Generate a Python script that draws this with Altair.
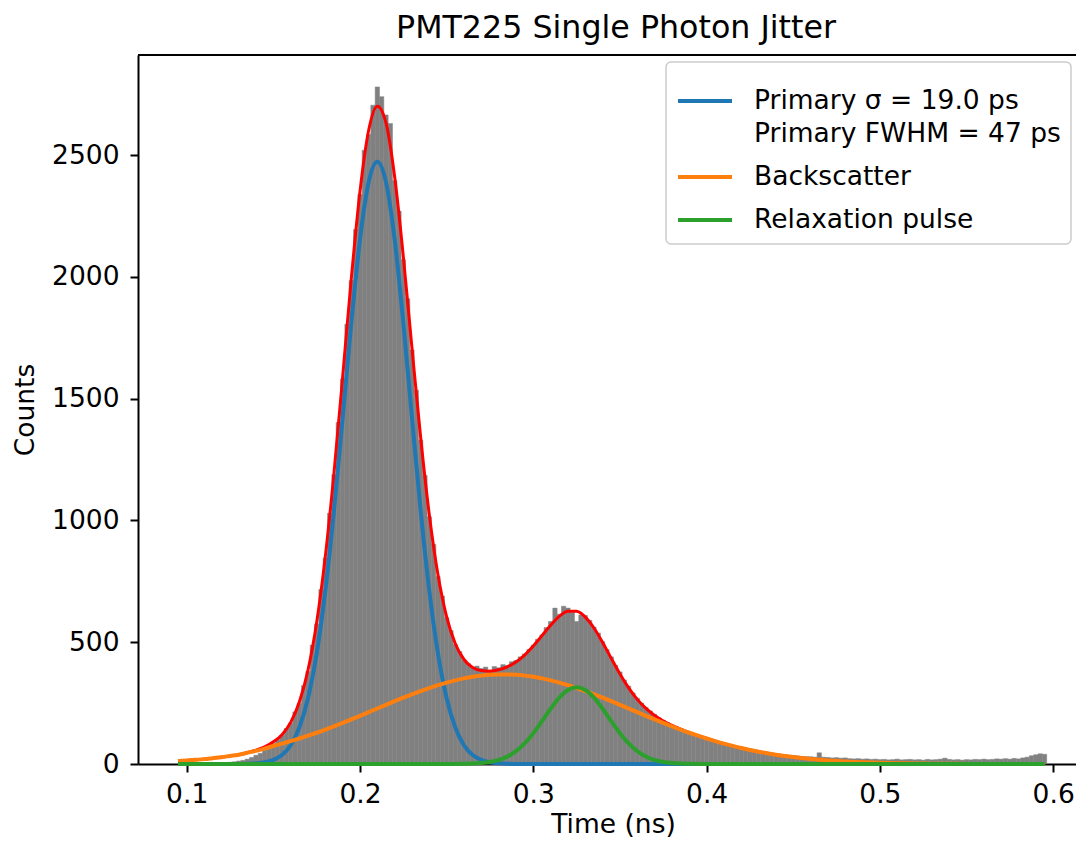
import altair as alt
import pandas as pd

TITLE = "PMT225 Single Photon Jitter"
X_TITLE = "Time (ns)"
Y_TITLE = "Counts"
X_TICKS = [0.1, 0.2, 0.3, 0.4, 0.5, 0.6]
Y_TICKS = [0, 500, 1000, 1500, 2000, 2500]

# Histogram: bins of 2.5 ps starting at 0.09625 ns
BIN_FIRST = 0.09625
BIN_WIDTH = 0.0025
HIST_COUNTS = [
    0, 0, 1, 0, 1, 2, 1, 2, 3, 4,
    5, 7, 9, 12, 15, 20, 27, 36, 44, 56,
    70, 84, 100, 118, 146, 168, 214, 249, 322, 380,
    488, 575, 716, 846, 1030, 1188, 1402, 1581, 1806, 1985,
    2195, 2338, 2520, 2585, 2705, 2780, 2740, 2665, 2630, 2395,
    2270, 2070, 1910, 1700, 1535, 1330, 1185, 1015, 902, 770,
    690, 600, 548, 490, 462, 425, 412, 395, 402, 392,
    398, 385, 400, 395, 408, 404, 420, 425, 440, 452,
    470, 488, 512, 530, 560, 585, 640, 615, 648, 640,
    622, 585, 612, 610, 590, 562, 538, 502, 470, 440,
    405, 378, 345, 320, 292, 270, 250, 232, 218, 204,
    190, 180, 170, 160, 152, 146, 138, 130, 124, 118,
    110, 103, 98, 92, 86, 80, 78, 72, 68, 63,
    60, 56, 54, 52, 48, 46, 44, 42, 40, 38,
    36, 34, 33, 31, 30, 30, 28, 46, 28, 27,
    25, 26, 24, 25, 22, 21, 22, 20, 21, 19,
    20, 18, 19, 17, 18, 20, 17, 18, 19, 17,
    18, 16, 19, 17, 18, 20, 24, 19, 17, 18,
    16, 18, 17, 19, 18, 20, 18, 19, 21, 20,
    22, 20, 23, 21, 25, 28, 34, 38, 42, 40,
]

# Fit curves sampled every 5 ps from 0.095 ns
CURVE_T0 = 0.095
CURVE_STEP = 0.005
PRIMARY = [
    0, 0, 0, 0, 0, 0, 0, 0.3, 1.0, 2.8,
    7, 17, 37, 77, 150, 270, 453, 711, 1041, 1421,
    1811, 2153, 2389, 2473, 2389, 2153, 1811, 1421, 1041, 711,
    453, 270, 150, 77, 37, 17, 7, 2.8, 1.0, 0.3,
    0, 0, 0, 0, 0, 0, 0, 0, 0, 0,
    0, 0, 0, 0, 0, 0, 0, 0, 0, 0,
    0, 0, 0, 0, 0, 0, 0, 0, 0, 0,
    0, 0, 0, 0, 0, 0, 0, 0, 0, 0,
    0, 0, 0, 0, 0, 0, 0, 0, 0, 0,
    0, 0, 0, 0, 0, 0, 0, 0, 0, 0,
    0,
]
BACKSCATTER = [
    12, 14, 17, 20, 24, 28, 33, 38, 46, 54,
    63, 74, 83.6, 93.8, 104.6, 116.1, 128.3, 141.2, 154.7, 168.6,
    183.0, 197.8, 212.8, 227.9, 243.0, 257.9, 272.4, 286.3, 299.5, 311.9,
    323.6, 334.2, 343.4, 351.4, 357.9, 362.8, 366.1, 367.8, 367.8, 366.1,
    362.8, 357.9, 351.4, 343.4, 334.2, 323.6, 311.9, 299.5, 286.3, 272.4,
    257.9, 243.0, 227.9, 212.8, 197.8, 183.0, 168.6, 154.7, 141.2, 128.3,
    116.1, 104.6, 93.8, 83.6, 74.3, 65.6, 57.7, 50.6, 44.1, 38.3,
    33.1, 28.5, 24.4, 20.8, 17.6, 14.9, 12.5, 10.5, 8.7, 7.2,
    6.0, 4.9, 4.0, 3.3, 2.6, 2.1, 1.7, 1.4, 1.1, 0.9,
    0.7, 0.5, 0.4, 0.3, 0.25, 0.2, 0.15, 0.1, 0.1, 0.1,
    0.05,
]
RELAXATION = [
    0, 0, 0, 0, 0, 0, 0, 0, 0, 0,
    0, 0, 0, 0, 0, 0, 0, 0, 0, 0,
    0, 0, 0, 0, 0, 0, 0, 0, 0, 0,
    0, 0, 0.2, 0.7, 1.6, 3.8, 8.2, 16.4, 30.4, 52.6,
    84.6, 126.4, 175.7, 226.7, 272.2, 303.7, 315, 303.7, 272.2, 226.7,
    175.7, 126.4, 84.6, 52.6, 30.4, 16.4, 8.2, 3.8, 1.6, 0.7,
    0.2, 0, 0, 0, 0, 0, 0, 0, 0, 0,
    0, 0, 0, 0, 0, 0, 0, 0, 0, 0,
    0, 0, 0, 0, 0, 0, 0, 0, 0, 0,
    0, 0, 0, 0, 0, 0, 0, 0, 0, 0,
    0,
]
TOTAL_FIT = [
    12, 14, 17, 20, 24, 28, 33, 38.3, 47, 56.8,
    70, 91, 120.6, 170.8, 254.6, 386.1, 581.3, 852.2, 1195.7, 1589.6,
    1994, 2350.8, 2601.8, 2700.9, 2632, 2410.9, 2083.4, 1707.3, 1340.5, 1022.9,
    776.6, 604.2, 493.6, 429.1, 396.5, 383.6, 381.3, 387, 399.2, 419,
    447.4, 484.3, 527.1, 570.1, 606.4, 627.3, 626.9, 603.2, 558.5, 499.1,
    433.6, 369.4, 312.5, 265.4, 228.2, 199.4, 176.8, 158.5, 142.8, 129,
    116.3, 104.6, 93.8, 83.6, 74.3, 65.6, 57.7, 50.6, 44.1, 38.3,
    33.1, 28.5, 24.4, 20.8, 17.6, 14.9, 12.5, 10.5, 8.7, 7.2,
    6.0, 4.9, 4.0, 3.3, 2.6, 2.1, 1.7, 1.4, 1.1, 0.9,
    0.7, 0.5, 0.4, 0.3, 0.25, 0.2, 0.15, 0.1, 0.1, 0.1,
    0.05,
]

SERIES_NAMES = [
    "Primary \u03c3 = 19.0 ps\n\u2005Primary FWHM = 47 ps",
    "Backscatter",
    "Relaxation pulse",
]
SERIES_COLORS = ["#1f77b4", "#ff7f0e", "#2ca02c"]
HIST_COLOR = "#808080"
FIT_COLOR = "#ff0000"

FONT = "DejaVu Sans"
FS = 26.5
W, H = 938, 709

# ---------- data tables ----------
starts = [round(BIN_FIRST + i * BIN_WIDTH, 6) for i in range(len(HIST_COUNTS))]
hist_df = pd.DataFrame({
    "start": starts,
    "end": [round(s + BIN_WIDTH, 6) for s in starts],
    "count": HIST_COUNTS,
})
T = [round(CURVE_T0 + i * CURVE_STEP, 4) for i in range(len(TOTAL_FIT))]
total_df = pd.DataFrame({"t": T, "value": TOTAL_FIT})
comp_dfs = [
    pd.DataFrame({"t": T, "value": vals, "series": name})
    for name, vals in zip(SERIES_NAMES, [PRIMARY, BACKSCATTER, RELAXATION])
]

# ---------- scales & axes ----------
x_scale = alt.Scale(domain=[0.0719, 0.0719 + W / 1733.0], nice=False, zero=False)
y_scale = alt.Scale(domain=[0, 2911], nice=False)

x_axis = alt.Axis(
    values=X_TICKS, format=".1f", title=X_TITLE, grid=False,
    labelFont=FONT, labelFontSize=FS, labelColor="black", labelPadding=9,
    labelFlush=False, labelOverlap=False,
    tickSize=8, tickWidth=2, tickColor="black",
    domainColor="black", domainWidth=2,
    titleFont=FONT, titleFontSize=FS, titleFontWeight="normal", titleColor="black",
    titleX=475, titleY=60, titleBaseline="middle", titleAlign="center",
)
y_axis = alt.Axis(
    values=Y_TICKS, format="d", title=Y_TITLE, grid=False,
    labelFont=FONT, labelFontSize=FS, labelColor="black", labelPadding=11,
    labelOverlap=False,
    tickSize=8, tickWidth=2, tickColor="black",
    domainColor="black", domainWidth=2,
    titleFont=FONT, titleFontSize=FS, titleFontWeight="normal", titleColor="black",
    titleX=-113, titleY=354.5, titleAngle=270, titleBaseline="middle", titleAlign="center",
)

legend = alt.Legend(
    title=None, orient="none", legendX=528, legendY=7,
    symbolType="stroke", symbolSize=2916, symbolStrokeWidth=4, symbolOpacity=1,
    labelFont=FONT, labelFontSize=FS, labelColor="black", labelLimit=700,
    labelOffset=20, padding=10, rowPadding=-1,
    fillColor="white", strokeColor="#cccccc", cornerRadius=5,
    labelExpr="split(datum.label, '\\n')",
)
color = alt.Color("series:N", scale=alt.Scale(domain=SERIES_NAMES, range=SERIES_COLORS), legend=legend)

bars = alt.Chart(hist_df).mark_bar(color=HIST_COLOR, stroke=HIST_COLOR, strokeWidth=0.5).encode(
    x=alt.X("start:Q", scale=x_scale, axis=x_axis),
    x2="end:Q",
    y=alt.Y("count:Q", scale=y_scale, axis=y_axis),
    y2=alt.datum(0),
)

fit = alt.Chart(total_df).mark_line(color=FIT_COLOR, strokeWidth=3, interpolate="monotone").encode(
    x=alt.X("t:Q", scale=x_scale, axis=x_axis),
    y=alt.Y("value:Q", scale=y_scale, axis=y_axis),
)

comp_layers = [
    alt.Chart(df).mark_line(strokeWidth=4, interpolate="monotone").encode(
        x=alt.X("t:Q", scale=x_scale, axis=x_axis),
        y=alt.Y("value:Q", scale=y_scale, axis=y_axis),
        color=color,
    )
    for df in comp_dfs
]

frame_top = alt.Chart(pd.DataFrame({"k": [0]})).mark_rule(color="black", strokeWidth=2).encode(
    y=alt.value(0), x=alt.value(0), x2=alt.value(W),
)

chart = alt.layer(bars, fit, *comp_layers, frame_top).properties(
    width=W, height=H,
    title=alt.TitleParams(
        TITLE, font=FONT, fontSize=31.7, fontWeight="normal", color="black",
        anchor="middle", baseline="alphabetic", offset=-16, dx=9,
    ),
    autosize=alt.AutoSizeParams(type="none"),
    padding={"left": 130, "top": 47, "right": 0, "bottom": 74},
).configure(
    font=FONT,
    view={"strokeWidth": 0},
    legend={"strokeWidth": 1.5},
    style={"guide-label": {"lineHeight": 33}},
)

chart.save("out.html", embed_options={"renderer": "svg", "actions": False})
